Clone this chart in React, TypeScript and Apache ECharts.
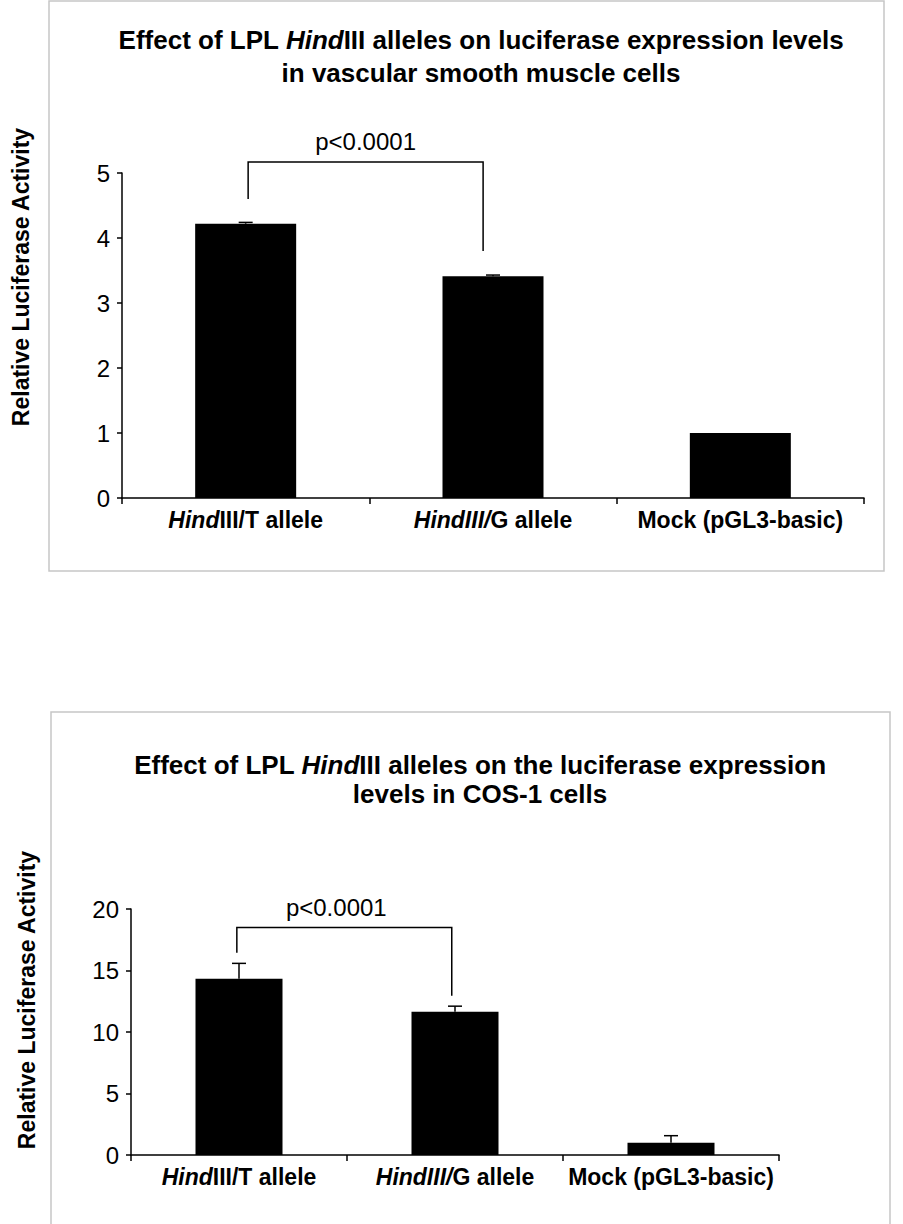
import React, { useEffect, useRef } from "react";
import * as echarts from "echarts";

// ---------- data ----------
const categories = ["HindIII/T allele", "HindIII/G allele", "Mock (pGL3-basic)"];
// italic leading part of each category label
const categoryItalic = ["Hind", "HindIII/", ""];

const vsmcValues = [4.22, 3.41, 1.0];
const vsmcErrors = [0.02, 0.02, 0];
const vsmcAxis = { min: 0, max: 5, interval: 1 };
// [fromCategory, toCategory, bracketTop, leftLegEnd, rightLegEnd]
const vsmcBracket = [0, 1, 5.17, 4.6, 3.8];

const cosValues = [14.33, 11.65, 1.0];
const cosErrors = [1.25, 0.45, 0.57];
const cosAxis = { min: 0, max: 20, interval: 5 };
const cosBracket = [0, 1, 18.5, 16.45, 12.95];

const pLabel = "p<0.0001";
const yTitle = "Relative Luciferase Activity";
const topTitle = [
  ["Effect of LPL ", "Hind", "III alleles on luciferase expression levels"],
  ["in vascular smooth muscle cells", "", ""],
];
const bottomTitle = [
  ["Effect of LPL ", "Hind", "III alleles on the luciferase expression"],
  ["levels in COS-1 cells", "", ""],
];

// ---------- styles ----------
const FONT = "'Liberation Sans', Arial, Helvetica, sans-serif";

const richBold = (size: number) => ({
  b: { fontFamily: FONT, fontWeight: "bold", fontSize: size, color: "#000" },
  i: { fontFamily: FONT, fontWeight: "bold", fontStyle: "italic", fontSize: size, color: "#000" },
});

const titleRich = (seg: string[]) => {
  let s = "";
  if (seg[0]) s += "{b|" + seg[0] + "}";
  if (seg[1]) s += "{i|" + seg[1] + "}";
  if (seg[2]) s += "{b|" + seg[2] + "}";
  return s;
};

const catFormatter = (v: string, idx: number) => {
  const it = categoryItalic[idx] || "";
  const rest = v.slice(it.length);
  return (it ? "{i|" + it + "}" : "") + "{b|" + rest + "}";
};

const errorRender = (params: any, api: any) => {
  const i = api.value(0);
  const v = api.value(1);
  const e = api.value(2);
  if (!e) return { type: "group", children: [] };
  const base = api.coord([i, v]);
  const top = api.coord([i, v + e]);
  const cap = 7;
  return {
    type: "group",
    children: [
      {
        type: "line",
        shape: { x1: base[0], y1: base[1], x2: top[0], y2: top[1] },
        style: { stroke: "#000", lineWidth: 1.5 },
      },
      {
        type: "line",
        shape: { x1: top[0] - cap, y1: top[1], x2: top[0] + cap, y2: top[1] },
        style: { stroke: "#000", lineWidth: 1.5 },
      },
    ],
  };
};

const bracketRender = (offL: number, offR: number, labelDx: number) => (params: any, api: any) => {
  const from = api.value(0);
  const to = api.value(1);
  const top = api.value(2);
  const lEnd = api.value(3);
  const rEnd = api.value(4);
  const band = api.size([1, 0])[0];
  const pl = api.coord([from, top]);
  const pr = api.coord([to, top]);
  const xl = pl[0] + offL * band;
  const xr = pr[0] + offR * band;
  const yTop = pl[1];
  const yL = api.coord([from, lEnd])[1];
  const yR = api.coord([to, rEnd])[1];
  return {
    type: "group",
    children: [
      {
        type: "polyline",
        shape: { points: [[xl, yL], [xl, yTop], [xr, yTop], [xr, yR]] },
        style: { stroke: "#000", lineWidth: 1.5, fill: null },
      },
      {
        type: "text",
        style: {
          text: pLabel,
          x: (xl + xr) / 2 + labelDx,
          y: yTop - 20,
          fontFamily: FONT,
          fontSize: 24,
          fill: "#000",
          textAlign: "center",
          textVerticalAlign: "middle",
          align: "center",
          verticalAlign: "middle",
        },
      },
    ],
  };
};

const xAxisCommon = (gridIndex: number) => ({
  type: "category",
  gridIndex,
  data: categories,
  axisLine: { show: true, lineStyle: { color: "#000", width: 1.5 } },
  axisTick: { show: true, length: 6, lineStyle: { color: "#000", width: 1.5 } },
  axisLabel: {
    interval: 0,
    margin: 10,
    formatter: catFormatter,
    rich: richBold(23),
  },
  splitLine: { show: false },
});

const yAxisCommon = (gridIndex: number, ax: { min: number; max: number; interval: number }) => ({
  type: "value",
  gridIndex,
  min: ax.min,
  max: ax.max,
  interval: ax.interval,
  axisLine: { show: true, lineStyle: { color: "#000", width: 1.5 } },
  axisTick: { show: true, length: 5, lineStyle: { color: "#000", width: 1.5 } },
  axisLabel: { fontFamily: FONT, fontSize: 24, color: "#000", margin: 12 },
  splitLine: { show: false },
});

const titleText = (seg: string[], x: number, y: number) => ({
  type: "text",
  x,
  y,
  silent: true,
  style: {
    text: titleRich(seg),
    rich: richBold(26),
    fontFamily: FONT,
    fontSize: 26,
    fontWeight: "bold",
    fill: "#000",
    align: "center",
    verticalAlign: "middle",
    textAlign: "center",
    textVerticalAlign: "middle",
  },
});

const yTitleText = (x: number, y: number) => ({
  type: "text",
  x,
  y,
  rotation: Math.PI / 2,
  silent: true,
  style: {
    text: yTitle,
    fontFamily: FONT,
    fontSize: 23,
    fontWeight: "bold",
    fill: "#000",
    align: "center",
    verticalAlign: "middle",
    textAlign: "center",
    textVerticalAlign: "middle",
  },
});

export default function App() {
  const ref = useRef<HTMLDivElement>(null);

  useEffect(() => {
    if (!ref.current) return;
    const chart = echarts.init(ref.current, undefined, { renderer: "svg" });

    const option: any = {
      animation: false,
      backgroundColor: "#fff",
      grid: [
        { left: 122, top: 173, width: 742, height: 325, containLabel: false, outerBoundsMode: "none" },
        { left: 131, top: 909, width: 648, height: 246, containLabel: false, outerBoundsMode: "none" },
      ],
      xAxis: [xAxisCommon(0), xAxisCommon(1)],
      yAxis: [yAxisCommon(0, vsmcAxis), yAxisCommon(1, cosAxis)],
      graphic: [
        {
          type: "rect",
          shape: { x: 49, y: 1, width: 835, height: 570 },
          style: { fill: "transparent", stroke: "#c6c6c6", lineWidth: 1.5 },
          silent: true,
          z: -10,
        },
        {
          type: "rect",
          shape: { x: 51, y: 712, width: 839, height: 530 },
          style: { fill: "transparent", stroke: "#c6c6c6", lineWidth: 1.5 },
          silent: true,
          z: -10,
        },
        titleText(topTitle[0], 481, 40),
        titleText(topTitle[1], 481, 73),
        titleText(bottomTitle[0], 480, 765),
        titleText(bottomTitle[1], 480, 794),
        yTitleText(21, 277),
        yTitleText(27, 1000),
      ],
      series: [
        {
          type: "bar",
          xAxisIndex: 0,
          yAxisIndex: 0,
          data: vsmcValues,
          barWidth: 101,
          itemStyle: { color: "#000" },
          silent: true,
        },
        {
          type: "custom",
          xAxisIndex: 0,
          yAxisIndex: 0,
          data: categories.map((c, i) => [i, vsmcValues[i], vsmcErrors[i]]),
          encode: { x: 0, y: 1 },
          renderItem: errorRender,
          clip: false,
          silent: true,
          z: 3,
        },
        {
          type: "custom",
          xAxisIndex: 0,
          yAxisIndex: 0,
          data: [vsmcBracket],
          encode: { x: 0, y: 2 },
          renderItem: bracketRender(0.01, -0.04, 0),
          clip: false,
          silent: true,
          z: 3,
        },
        {
          type: "bar",
          xAxisIndex: 1,
          yAxisIndex: 1,
          data: cosValues,
          barWidth: 87,
          itemStyle: { color: "#000" },
          silent: true,
        },
        {
          type: "custom",
          xAxisIndex: 1,
          yAxisIndex: 1,
          data: categories.map((c, i) => [i, cosValues[i], cosErrors[i]]),
          encode: { x: 0, y: 1 },
          renderItem: errorRender,
          clip: false,
          silent: true,
          z: 3,
        },
        {
          type: "custom",
          xAxisIndex: 1,
          yAxisIndex: 1,
          data: [cosBracket],
          encode: { x: 0, y: 2 },
          renderItem: bracketRender(-0.01, -0.015, -8),
          clip: false,
          silent: true,
          z: 3,
        },
      ],
    };

    chart.setOption(option);
    return () => chart.dispose();
  }, []);

  return (
    <div
      ref={ref}
      style={{ position: "absolute", left: 0, top: 0, width: 903, height: 1224 }}
    />
  );
}
